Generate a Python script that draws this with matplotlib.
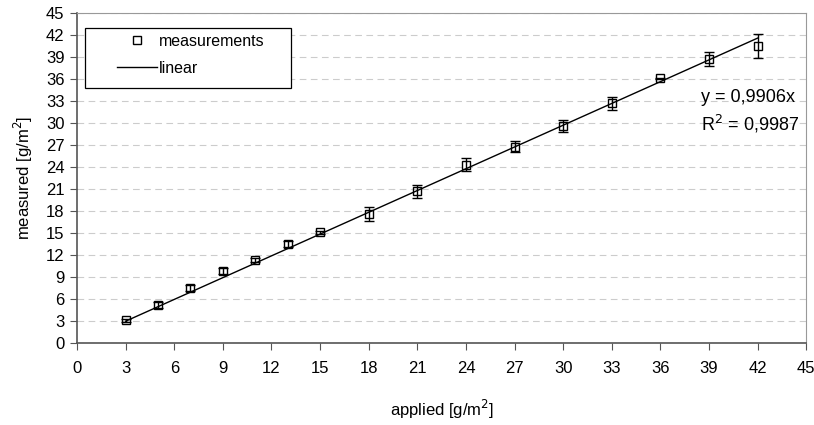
import numpy as np
import matplotlib.pyplot as plt
from matplotlib.patches import Rectangle

plt.rcParams['font.family'] = ['Liberation Sans', 'DejaVu Sans']

# data
applied = [3, 5, 7, 9, 11, 13, 15, 18, 21, 24, 27, 30, 33, 36, 39, 42]
measured = [3.1, 5.2, 7.5, 9.8, 11.3, 13.5, 15.1, 17.6, 20.7, 24.3, 26.8, 29.6, 32.7, 36.1, 38.8, 40.5]
error = [0.2, 0.4, 0.4, 0.4, 0.3, 0.4, 0.2, 1.0, 0.9, 0.9, 0.8, 0.8, 0.9, 0.1, 0.95, 1.6]
slope = 0.9906
r2 = 0.9987

fig = plt.figure(figsize=(8.14, 4.25), dpi=100)
ax = fig.add_axes([0.0946, 0.193, 0.896, 0.776])

# grid lines
ax.set_axisbelow(True)
ax.yaxis.grid(True, color='#cccccc', linestyle=(0, (6, 4)), linewidth=0.8)

# trend line
xl = np.array([min(applied), max(applied)])
ax.plot(xl, slope * xl, color='black', linewidth=1.0, label='linear', zorder=2)

# measurements
ax.errorbar(applied, measured, yerr=error, fmt='s', mfc='none', mec='black',
            ms=6, mew=1.0, ecolor='black', elinewidth=1.0, capsize=3.5,
            capthick=1.0, zorder=3)
ax.plot([], [], 's', mfc='none', mec='black', ms=6, mew=1.0, label='measurements')

ax.set_xlim(0, 45)
ax.set_ylim(0, 45)
ax.set_xticks(np.arange(0, 46, 3))
ax.set_yticks(np.arange(0, 46, 3))
ax.tick_params(direction='out', length=5, labelsize=12, color='#555555', pad=4)
ax.tick_params(axis='x', pad=8)

for side in ['top', 'right']:
    ax.spines[side].set_color('#999999')
for side in ['left', 'bottom']:
    ax.spines[side].set_color('#555555')
    ax.spines[side].set_linewidth(1.2)

ax.set_xlabel('applied [g/m$^2$]', fontsize=12, labelpad=16)
ax.set_ylabel('measured [g/m$^2$]', fontsize=12, labelpad=8)

# legend box (Excel style, wider than its content)
ax.add_patch(Rectangle((0.011, 0.773), 0.2825, 0.1815, transform=ax.transAxes,
                       facecolor='white', edgecolor='black', linewidth=0.9,
                       zorder=4))
handles, labels = ax.get_legend_handles_labels()
leg = ax.legend(handles[::-1], labels[::-1], loc='upper left',
                bbox_to_anchor=(0.0549, 0.937), fontsize=11.5, frameon=False,
                borderpad=0, labelspacing=0.75, handlelength=2.5,
                handletextpad=0.1, borderaxespad=0)
leg.set_zorder(5)

ax.text(0.855, 0.745, f'y = {slope:.4f}x'.replace('.', ','), transform=ax.transAxes,
        fontsize=13, va='center', ha='left')
ax.text(0.855, 0.665, f'R$^2$ = {r2:.4f}'.replace('.', ','), transform=ax.transAxes,
        fontsize=13, va='center', ha='left')

fig.savefig('out.png', dpi=100)
